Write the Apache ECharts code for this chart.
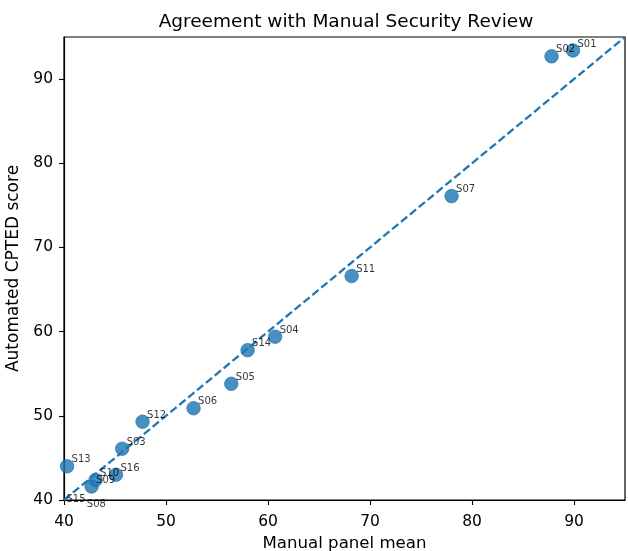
<!DOCTYPE html>
<html>
<head>
<meta charset="utf-8">
<script src="https://cdn.jsdelivr.net/npm/echarts@6/dist/echarts.min.js"></script>
<style>
  html, body { margin: 0; padding: 0; background: #fff; }
  #chart { width: 628px; height: 551px; }
</style>
</head>
<body>
<div id="chart"></div>
<script>
// Site identifiers with manual panel means and automated CPTED scores
const sites = ['S01','S02','S03','S04','S05','S06','S07','S08','S09','S10','S11','S12','S13','S14','S15','S16'];
const manualMean = [89.9, 87.8, 45.7, 60.7, 56.4, 52.7, 78.0, 41.8, 42.7, 43.1, 68.2, 47.7, 40.3, 58.0, 39.8, 45.1];
const automatedScore = [93.4, 92.7, 46.1, 59.4, 53.8, 50.9, 76.1, 38.7, 41.6, 42.4, 66.6, 49.3, 44.0, 57.8, 39.3, 43.0];

// Line of perfect agreement (y = x)
const identityLine = [40, 95];

const axisRange = { min: 40, max: 95, interval: 10 };
const tickFont = { fontFamily: 'DejaVu Sans', fontSize: 15.5, color: '#000' };

const points = sites.map((s, i) => [manualMean[i], automatedScore[i], s]);

const chart = echarts.init(document.getElementById('chart'), null, { renderer: 'canvas' });

chart.setOption({
  animation: false,
  backgroundColor: '#fff',
  title: {
    text: 'Agreement with Manual Security Review',
    left: 341, top: 8, textAlign: 'center',
    textStyle: { fontFamily: 'DejaVu Sans', fontSize: 18.5, fontWeight: 'normal', color: '#000' }
  },
  grid: {
    left: 64, right: 3, top: 37, bottom: 51,
    outerBoundsMode: 'none', containLabel: false,
    show: true, borderColor: '#000', borderWidth: 1.2, backgroundColor: 'transparent'
  },
  xAxis: {
    type: 'value', min: axisRange.min, max: axisRange.max, interval: axisRange.interval,
    name: 'Manual panel mean', nameLocation: 'middle', nameGap: 34,
    nameTextStyle: { fontFamily: 'DejaVu Sans', fontSize: 16.6, color: '#000' },
    axisLine: { show: true, onZero: false, lineStyle: { color: '#000', width: 1.2 } },
    axisTick: { show: true, length: 5, lineStyle: { color: '#000', width: 1.1 } },
    axisLabel: Object.assign({ margin: 14, showMaxLabel: false }, tickFont),
    splitLine: { show: false }
  },
  yAxis: {
    type: 'value', min: axisRange.min, max: axisRange.max, interval: axisRange.interval,
    name: 'Automated CPTED score', nameLocation: 'middle', nameGap: 35,
    nameTextStyle: { fontFamily: 'DejaVu Sans', fontSize: 17, color: '#000' },
    axisLine: { show: true, onZero: false, lineStyle: { color: '#000', width: 1.2 } },
    axisTick: { show: true, length: 5, lineStyle: { color: '#000', width: 1.1 } },
    axisLabel: Object.assign({ margin: 11, showMaxLabel: false }, tickFont),
    splitLine: { show: false }
  },
  series: [
    {
      type: 'line',
      data: [[identityLine[0], identityLine[0]], [identityLine[1], identityLine[1]]],
      symbol: 'none',
      lineStyle: { color: '#1f77b4', width: 2.3, type: [8, 3.5] },
      z: 3,
      silent: true
    },
    {
      // markers, clipped to the plot area
      type: 'scatter',
      data: points,
      symbolSize: 13.5,
      clip: true,
      itemStyle: { color: '#1f77b4', opacity: 0.82, borderColor: '#1a6aa3', borderWidth: 0.8 },
      z: 2
    },
    {
      // site annotations, not clipped
      type: 'scatter',
      data: points,
      symbolSize: 1,
      clip: false,
      itemStyle: { color: 'rgba(0,0,0,0)' },
      label: {
        show: true,
        position: [5, -11],
        formatter: p => p.data[2],
        fontFamily: 'DejaVu Sans',
        fontSize: 10,
        color: '#000'
      },
      z: 4,
      silent: true
    }
  ]
});
</script>
</body>
</html>
